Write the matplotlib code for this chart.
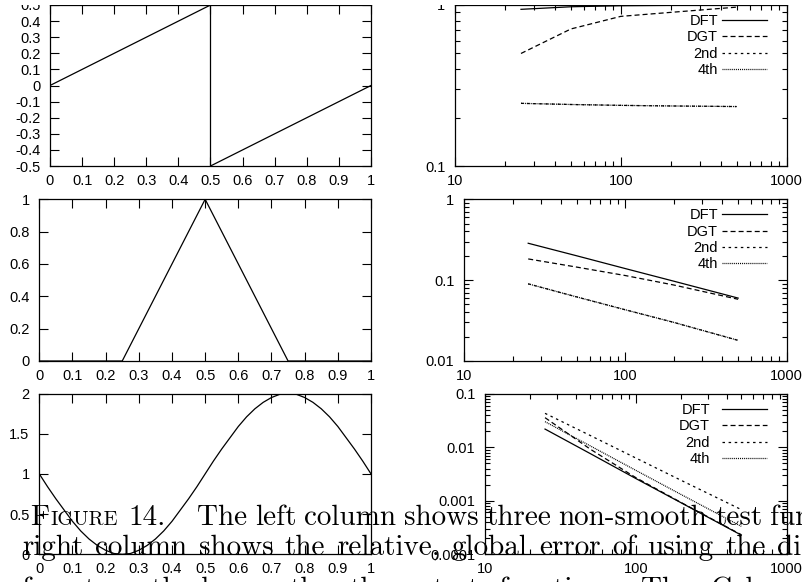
import numpy as np
import matplotlib
matplotlib.use("Agg")
import matplotlib.pyplot as plt
from matplotlib.lines import Line2D
from matplotlib.patches import Rectangle
from matplotlib.ticker import FixedLocator, FuncFormatter, NullFormatter, LogLocator

plt.rcParams['font.family'] = ['Liberation Sans', 'DejaVu Sans']
plt.rcParams['axes.unicode_minus'] = False
plt.rcParams['lines.scale_dashes'] = False

W, H = 803, 582

# left column: the three test functions
saw_x = [0, 0.5, 0.5, 1]
saw_y = [0, 0.5, -0.5, 0]
hat_x = [0, 0.25, 0.5, 0.75, 1]
hat_y = [0, 0, 1, 0, 0]
wave_x = np.linspace(0, 1, 41)
wave_y = [1.00, 0.84, 0.69, 0.55, 0.41, 0.29, 0.19, 0.11, 0.05, 0.01, 0.00,
          0.01, 0.05, 0.11, 0.19, 0.29, 0.41, 0.55, 0.69, 0.84, 1.00,
          1.16, 1.31, 1.45, 1.59, 1.71, 1.81, 1.89, 1.95, 1.99, 2.00,
          1.99, 1.95, 1.89, 1.81, 1.71, 1.59, 1.45, 1.31, 1.16, 1.00]

x_ticks = [0, 0.1, 0.2, 0.3, 0.4, 0.5, 0.6, 0.7, 0.8, 0.9, 1]
saw_ticks = [-0.5, -0.4, -0.3, -0.2, -0.1, 0, 0.1, 0.2, 0.3, 0.4, 0.5]
hat_ticks = [0, 0.2, 0.4, 0.6, 0.8, 1]
wave_ticks = [0, 0.5, 1, 1.5, 2]

# right column: relative global error against N
N = [25, 50, 100, 200, 500]
saw_dft = [0.94, 0.975, 0.99, 0.995, 0.998]
saw_dgt = [0.50, 0.71, 0.85, 0.90, 0.97]
saw_2nd = [0.245, 0.241, 0.238, 0.236, 0.234]
saw_4th = [0.245, 0.241, 0.238, 0.236, 0.234]

hat_dft = [0.286, 0.200, 0.139, 0.097, 0.060]
hat_dgt = [0.183, 0.145, 0.114, 0.087, 0.058]
hat_2nd = [0.090, 0.062, 0.043, 0.030, 0.018]
hat_4th = [0.090, 0.062, 0.043, 0.030, 0.018]

wave_dft = [0.022, 0.0076, 0.0026, 0.00091, 0.000226]
wave_dgt = [0.036, 0.0092, 0.0027, 0.00092, 0.00023]
wave_2nd = [0.0434, 0.0166, 0.0063, 0.0024, 0.00068]
wave_4th = [0.0303, 0.0106, 0.0037, 0.0013, 0.00033]

methods = ['DFT', 'DGT', '2nd', '4th']
dashes = {'DFT': '-', 'DGT': (0, (3.6, 2.2)), '2nd': (0, (1.8, 2.6)),
          '4th': (0, (0.7, 0.7))}

fig = plt.figure(figsize=(W / 100, H / 100), dpi=100)
renderer = fig.canvas.get_renderer()


def px_axes(x0, y0, x1, y1):
    """ axes placed by pixel box of the reference """
    return fig.add_axes([x0 / W, 1 - y1 / H, (x1 - x0) / W, (y1 - y0) / H])


def style(ax):
    ax.tick_params(which='both', direction='in', top=True, right=True,
                   labelsize=10.5, width=0.8, colors='black')
    ax.tick_params(which='major', length=6.5)
    ax.tick_params(which='minor', length=3.5)
    ax.tick_params(axis='y', pad=7)
    ax.tick_params(axis='x', pad=5.5)
    for s in ax.spines.values():
        s.set_linewidth(0.9)
    ax.xaxis.set_major_formatter(FuncFormatter(lambda v, p: '%g' % v))
    ax.yaxis.set_major_formatter(FuncFormatter(lambda v, p: '%g' % v))


def left_panel(box, x, y, ymin, ymax, yticks):
    ax = px_axes(*box)
    ax.plot(x, y, color='black', lw=0.9)
    ax.set_xlim(0, 1)
    ax.set_ylim(ymin, ymax)
    ax.xaxis.set_major_locator(FixedLocator(x_ticks))
    ax.yaxis.set_major_locator(FixedLocator(yticks))
    style(ax)
    return ax


def right_panel(box, series, ymin, ymax, legend_right):
    ax = px_axes(*box)
    for name, vals in zip(methods, series):
        ax.plot(N, vals, color='black', lw=0.9, linestyle=dashes[name])
    ax.set_xscale('log')
    ax.set_yscale('log')
    ax.set_xlim(10, 1000)
    ax.set_ylim(ymin, ymax)
    for axis in (ax.xaxis, ax.yaxis):
        axis.set_major_locator(LogLocator(base=10))
        axis.set_minor_locator(LogLocator(base=10, subs=np.arange(2, 10), numticks=20))
        axis.set_minor_formatter(NullFormatter())
    style(ax)
    # key in the upper right corner, gnuplot style
    top = box[1]
    for i, name in enumerate(methods):
        yl = top + 15 + 16.4 * i
        fig.text(legend_right / W, 1 - (yl + 5) / H, name, ha='right',
                 va='baseline', fontsize=10.5)
        fig.add_artist(Line2D([722 / W, 767 / W], [1 - yl / H] * 2,
                              transform=fig.transFigure, color='black', lw=0.9,
                              linestyle=dashes[name]))
    return ax


left_panel((50, 5, 371, 166), saw_x, saw_y, -0.5, 0.5, saw_ticks)
left_panel((39.3, 199.3, 371, 361), hat_x, hat_y, 0, 1, hat_ticks)
left_panel((39.3, 393.5, 371, 554.3), wave_x, wave_y, 0, 2, wave_ticks)

right_panel((455, 5, 786.7, 166), [saw_dft, saw_dgt, saw_2nd, saw_4th], 0.1, 1, 718)
right_panel((464, 199.3, 786.7, 361), [hat_dft, hat_dgt, hat_2nd, hat_4th], 0.01, 1, 718)
right_panel((485, 394, 786.7, 554), [wave_dft, wave_dgt, wave_2nd, wave_4th],
            0.0001, 0.1, 710)

# the page cut the plots off just above the first row
fig.add_artist(Rectangle((0, 1 - 4.6 / H), 1, 4.6 / H, transform=fig.transFigure,
                         facecolor='white', edgecolor='none', zorder=20))

# caption of the paper, typeset over the plots
CAP = 21


def put(x, y, s, size=CAP):
    t = fig.text(x / W, 1 - y / H, s, fontsize=size, family='cmr10',
                 ha='left', va='baseline', zorder=30)
    return t.get_window_extent(renderer).width


def width(s):
    t = fig.text(0, 0, s, fontsize=CAP, family='cmr10')
    w = t.get_window_extent(renderer).width
    t.remove()
    return w


def justify(words, x0, x_last, y):
    """ spread words so the first starts at x0 and the last at x_last """
    widths = [width(w) for w in words[:-1]]
    gap = (x_last - x0 - sum(widths)) / (len(words) - 1)
    x = x0
    for w, wd in zip(words, widths + [0]):
        put(x, y, w)
        x += wd + gap
    return x - gap, gap


x = 30 + put(30, 525, 'F')
put(x + 1, 525, 'IGURE', CAP * 0.7)
put(128, 525, '14.')
justify(['The', 'left', 'column', 'shows', 'three', 'non-smooth', 'test',
         'functions'], 197, 770, 525)
justify(['right', 'column', 'shows', 'the', 'relative,', 'global', 'error',
         'of', 'using', 'the', 'different'], 22, 777, 555)
x, gap = justify(['ferent', 'methods', 'on', 'the', 'three', 'test', 'functions.',
                  'The', 'Color'], 22, 710, 597)
put(x + width('Color') + gap, 597, 'of')

fig.savefig('out.png', dpi=100)
